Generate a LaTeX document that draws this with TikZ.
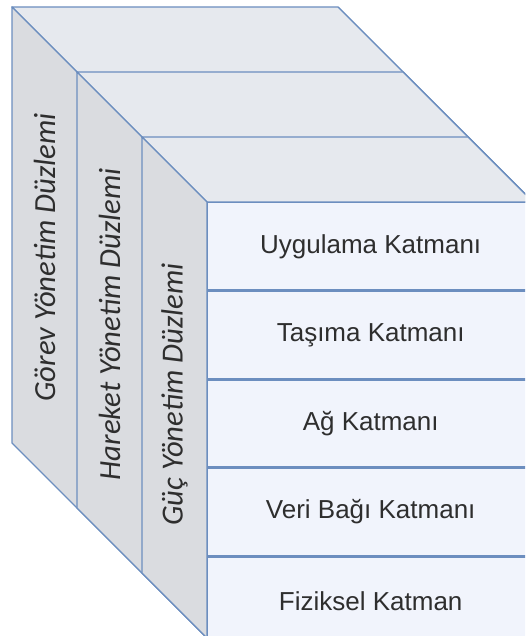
\documentclass[tikz,border=0pt]{standalone}
\usepackage{fontspec}
\setmainfont{Liberation Sans}
\newfontfamily\sidefont{Carlito}
\definecolor{edge}{HTML}{6C8EBF}
\definecolor{topf}{HTML}{E6E9EE}
\definecolor{leftf}{HTML}{DADCE0}
\definecolor{frontf}{HTML}{F1F4FC}
\definecolor{txt}{HTML}{2E2E2E}
\begin{document}
\begin{tikzpicture}[x=1pt,y=-1pt,line join=round,
  face/.style={draw=edge,line width=1.4pt},
  layer/.style={draw=edge,fill=frontf,line width=1.4pt,minimum width=326pt,minimum height=87.2pt,
    inner sep=0pt,anchor=north west,font=\fontsize{26}{30}\selectfont,text=txt},
  plane/.style={rotate=90,font=\sidefont\itshape\fontsize{30.7}{35}\selectfont,text=txt,inner sep=0pt}]
\useasboundingbox (0,0) rectangle (525,636);
\clip (0,0) rectangle (525,636);
\foreach \bx/\by/\d in {12/7/195, 77/72/130, 142/137/65} {
  \filldraw[face,fill=topf] (\bx,\by) -- (533-\d,\by) -- (533,202) -- (207,202) -- cycle;
  \filldraw[face,fill=leftf] (\bx,\by) -- (207,202) -- (207,638) -- (\bx,\by+436) -- cycle;
}
\node[layer] (r1) at (207,202) {Uygulama Katmanı};
\node[layer] (r2) at (r1.south west) {Taşıma Katmanı};
\node[layer] (r3) at (r2.south west) {Ağ Katmanı};
\node[layer] (r4) at (r3.south west) {Veri Bağı Katmanı};
\node[layer] (r5) at (r4.south west) {Fiziksel Katman};
\node[plane] (p1) at (44.5,257.5) {Görev Yönetim Düzlemi};
\node[plane] (p2) at (109.5,324.5) {Hareket Yönetim Düzlemi};
\node[plane] (p3) at (174.5,394.5) {Güç Yönetim Düzlemi};
\end{tikzpicture}
\end{document}
